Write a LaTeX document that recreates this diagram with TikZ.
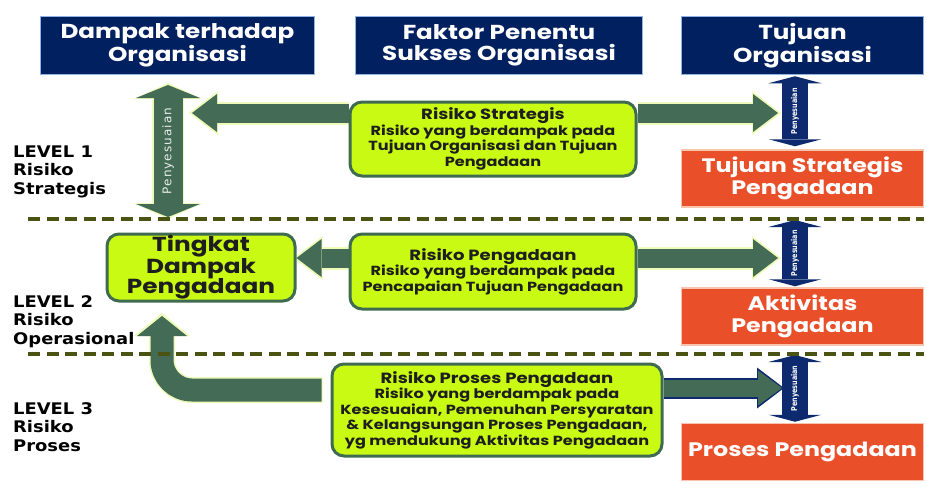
\documentclass[tikz,border=0pt]{standalone}
\usepackage{fontspec}
\setmainfont{DejaVu Sans}
\newfontfamily\boxfont{Poppins}[FakeStretch=1.22]
\newfontfamily\levelfont{DejaVu Sans}[FakeStretch=1.12]
\newfontfamily\renggang{DejaVu Sans}[LetterSpace=9]
\newfontfamily\sempit{DejaVu Sans}[FakeStretch=0.8]
\usetikzlibrary{arrows.meta,backgrounds}
\definecolor{navy}{HTML}{002060}
\definecolor{navyline}{HTML}{8EB4E3}
\definecolor{oranye}{HTML}{E9502A}
\definecolor{oranyeline}{HTML}{F7C4AE}
\definecolor{lime}{HTML}{C8FA14}
\definecolor{limeline}{HTML}{3F6B50}
\definecolor{panah}{HTML}{436B56}
\definecolor{glow}{HTML}{EEFBB8}
\definecolor{garis}{HTML}{4A5311}
\definecolor{teks}{HTML}{1E1E1E}
\definecolor{panahbiru}{HTML}{0D2A6E}

\begin{document}
\begin{tikzpicture}[x=1pt,y=-1pt]
        \tikzstyle{every node}=[inner sep=0pt,align=center]
        \tikzstyle{kotakbiru}=[fill=navy,draw=navyline,line width=1.5pt,text=white,minimum height=58pt,font=\boxfont\bfseries\fontsize{20.2}{21.5}\selectfont]
        \tikzstyle{kotakoranye}=[fill=oranye,draw=oranyeline,line width=1.5pt,text=white,minimum width=242pt,minimum height=57pt,font=\boxfont\bfseries\fontsize{19.5}{22}\selectfont]
        \tikzstyle{kotakhijau}=[fill=lime,draw=limeline,line width=3pt,rounded corners=12pt,text=teks,font=\boxfont\bfseries\fontsize{13.2}{15.5}\selectfont]
        \tikzstyle{level}=[anchor=base west,align=left,font=\levelfont\bfseries\fontsize{16}{18.5}\selectfont]
        \tikzstyle{garisputus}=[draw=garis,line width=4pt,dash pattern=on 12pt off 6.5pt]
        \tikzstyle{panahhijau}=[draw=panah,line width=19pt,-{Triangle[length=25pt,width=38pt,line width=0pt]}]
        \tikzstyle{cahaya}=[draw=glow,line width=23pt,shorten >=-3pt,-{Triangle[length=29pt,width=44pt,line width=0pt]}]
        \tikzstyle{panahbiru}=[draw=panahbiru,line width=26pt,{Triangle[length=7pt,width=53pt,line width=0pt]}-{Triangle[length=7pt,width=53pt,line width=0pt]}]
        \tikzstyle{labelbiru}=[rotate=90,text=white,font=\sempit\bfseries\fontsize{8}{8}\selectfont]

        \useasboundingbox (0,0) rectangle (927,488);

        % kotak atas
        \node[kotakbiru,minimum width=274pt] (dampak) at (177.5,45.5) {Dampak terhadap\\Organisasi};
        \node[kotakbiru,minimum width=287pt] (faktor) at (499,45.5) {Faktor Penentu\\Sukses Organisasi};
        \node[kotakbiru,minimum width=242pt] (tujuan) at (802.5,45.5) {Tujuan\\Organisasi};

        % kotak kanan
        \node[kotakoranye] (tsp) at (802.5,178.5) {Tujuan Strategis\\Pengadaan};
        \node[kotakoranye] (aktivitas) at (802.5,316.5) {Aktivitas\\Pengadaan};
        \node[kotakoranye] (proses) at (802.5,452) {Proses Pengadaan};

        % kotak risiko
        \node[kotakhijau,minimum width=286pt,minimum height=74pt] (rstrat) at (493,139)
            {{\fontsize{14.8}{17}\selectfont Risiko Strategis}\\Risiko yang berdampak pada\\Tujuan Organisasi dan Tujuan\\Pengadaan};
        \node[kotakhijau,minimum width=188pt,minimum height=67pt,font=\boxfont\bfseries\fontsize{20.3}{20.5}\selectfont] (tingkat) at (201,267.5)
            {Tingkat\\Dampak\\Pengadaan};
        \node[kotakhijau,minimum width=286pt,minimum height=75pt] (rpeng) at (493,271.5)
            {{\fontsize{14.8}{17}\selectfont Risiko Pengadaan}\\Risiko yang berdampak pada\\Pencapaian Tujuan Pengadaan};
        \node[kotakhijau,minimum width=330pt,minimum height=92pt] (rproses) at (497,410)
            {{\fontsize{14.8}{17}\selectfont Risiko Proses Pengadaan}\\Risiko yang berdampak pada\\Kesesuaian, Pemenuhan Persyaratan\\\& Kelangsungan Proses Pengadaan,\\yg mendukung Aktivitas Pengadaan};

        % level
        \node[level] (lv1) at (13,194) {LEVEL 1\\Risiko\\Strategis};
        \node[level] (lv2) at (13,344) {LEVEL 2\\Risiko\\Operasional};
        \node[level] (lv3) at (13,451) {LEVEL 3\\Risiko\\Proses};

        \coordinate (p1) at (168,85);
        \coordinate (p2) at (168,217);
        \coordinate (k1) at (192,113);
        \coordinate (n1) at (778,113);
        \coordinate (k2) at (0,258);
        \coordinate (n2) at (778,258);
        \coordinate (n3) at (782,388);
        \coordinate (b3) at (0,390);
        \coordinate (u3) at (162,316);
        \coordinate (q2) at (795,220);
        \coordinate (q3) at (795,355);

        \begin{scope}[on background layer]
            % penyesuaian kiri
            \draw[draw=glow,line width=32pt,shorten >=-2pt,shorten <=-2pt,{Triangle[length=16pt,width=69pt,line width=0pt]}-{Triangle[length=16pt,width=69pt,line width=0pt]}] (p1) -- (p2);
            \draw[draw=panah,line width=29pt,{Triangle[length=13pt,width=64pt,line width=0pt]}-{Triangle[length=13pt,width=64pt,line width=0pt]}] (p1) -- node[rotate=90,text=white!88!panah,font=\renggang\fontsize{12}{12}\selectfont] (sesuai1) {Penyesuaian} (p2);

            % level 1
            \draw[cahaya] (rstrat.west |- k1) -- (k1);
            \draw[panahhijau] (rstrat.west |- k1) -- (k1);
            \draw[cahaya] (rstrat.east |- n1) -- (n1);
            \draw[panahhijau] (rstrat.east |- n1) -- (n1);

            % level 2
            \draw[cahaya] (rpeng.west |- k2) -- (tingkat.east |- k2);
            \draw[panahhijau] (rpeng.west |- k2) -- (tingkat.east |- k2);
            \draw[cahaya] (rpeng.east |- n2) -- (n2);
            \draw[panahhijau] (rpeng.east |- n2) -- (n2);

            % level 3
            \draw[draw=glow,line width=26pt,rounded corners=30pt,shorten <=8pt,shorten >=-3pt,-{Triangle[length=23pt,width=56pt,line width=0pt]}] (rproses.west |- b3) -| (u3);
            \draw[draw=panah,line width=23pt,rounded corners=30pt,shorten <=9pt,-{Triangle[length=20pt,width=50pt,line width=0pt]}] (rproses.west |- b3) -| (u3);
            \draw[draw=panahbiru,line width=21pt,shorten >=-2pt,-{Triangle[length=27pt,width=41pt,line width=0pt]}] (rproses.east |- n3) -- (n3);
            \draw[draw=panah,line width=17pt,-{Triangle[length=24pt,width=35pt,line width=0pt]}] (rproses.east |- n3) -- (n3);

            % penyesuaian kanan
            \draw[panahbiru] ([xshift=-7.5pt,yshift=-1pt]tujuan.south) -- node[labelbiru] (sesuai2) {Penyesuaian} ([xshift=-7.5pt,yshift=3pt]tsp.north);
            \draw[panahbiru] (q2) -- node[labelbiru] (sesuai3) {Penyesuaian} ([yshift=1pt]aktivitas.north -| q2);
            \draw[panahbiru] (q3) -- node[labelbiru] (sesuai4) {Penyesuaian} ([yshift=1pt]proses.north -| q3);

            \foreach \y in {219,354}{
                \draw[garisputus] (28,\y) -- (924,\y);
            }
        \end{scope}
\end{tikzpicture}
\end{document}
